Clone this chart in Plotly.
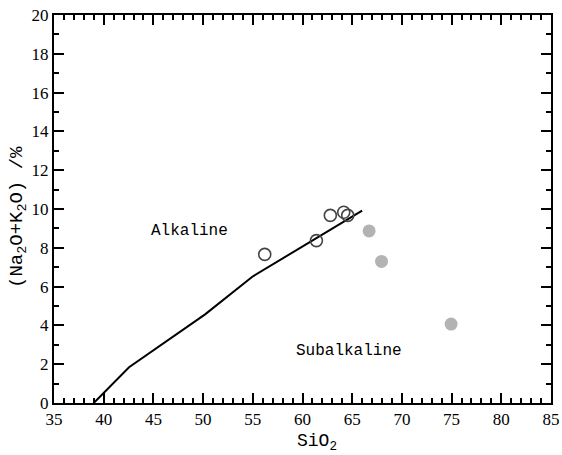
import plotly.graph_objects as go

# Boundary line (Irvine & Baragar style)
line_x = [39.0, 42.55, 50.2, 54.95, 66.0]
line_y = [0.0, 1.84, 4.57, 6.51, 9.92]

# Open circle samples
open_x = [56.2, 61.4, 62.8, 64.15, 64.55]
open_y = [7.66, 8.37, 9.67, 9.83, 9.67]

# Filled grey samples
fill_x = [66.7, 67.95, 74.95]
fill_y = [8.87, 7.30, 4.07]

x_ticks = [35, 40, 45, 50, 55, 60, 65, 70, 75, 80, 85]
y_ticks = [0, 2, 4, 6, 8, 10, 12, 14, 16, 18, 20]

labels = [("Alkaline", 48.6, 8.87), ("Subalkaline", 64.7, 2.68)]
x_title = "SiO<sub>2</sub>"
y_title = "(Na<sub>2</sub>O+K<sub>2</sub>O) /%"

FONT = "Liberation Mono"
TICKFONT = "Liberation Serif"

fig = go.Figure()
fig.add_trace(go.Scatter(x=line_x, y=line_y, mode="lines",
                         line=dict(color="black", width=2), showlegend=False))
fig.add_trace(go.Scatter(x=open_x, y=open_y, mode="markers",
                         marker=dict(symbol="circle-open", size=12,
                                     line=dict(color="#444444", width=1.6),
                                     color="#444444"),
                         showlegend=False))
fig.add_trace(go.Scatter(x=fill_x, y=fill_y, mode="markers",
                         marker=dict(symbol="circle", size=13, color="#b3b3b3"),
                         showlegend=False))

for text, x, y in labels:
    fig.add_annotation(x=x, y=y, text=text, showarrow=False,
                       font=dict(family=FONT, size=16, color="black"))

# axis titles as paper-positioned annotations
fig.add_annotation(xref="paper", yref="paper", x=0.53, y=-0.101,
                   xanchor="center", yanchor="middle", text=x_title,
                   showarrow=False, font=dict(family=FONT, size=18, color="black"))
fig.add_annotation(xref="paper", yref="paper", x=-0.072, y=0.48,
                   xanchor="center", yanchor="middle", text=y_title, textangle=-90,
                   showarrow=False, font=dict(family=FONT, size=19, color="black"))

axis_common = dict(
    showgrid=False, zeroline=False, showline=True, linecolor="black",
    linewidth=2, mirror="ticks", ticks="inside", ticklen=10, tickwidth=2,
    tickcolor="black", automargin=False, ticklabeloverflow="allow",
    tickfont=dict(family=TICKFONT, size=17, color="black"),
)

fig.update_xaxes(range=[35, 85], tickvals=x_ticks,
                 minor=dict(dtick=1, ticks="inside", ticklen=5, tickwidth=2,
                            tickcolor="black", showgrid=False),
                 **axis_common)
fig.update_yaxes(range=[0, 20], tickvals=y_ticks,
                 minor=dict(dtick=1, ticks="inside", ticklen=5, tickwidth=2,
                            tickcolor="black", showgrid=False),
                 **axis_common)

fig.update_layout(width=562, height=455,
                  margin=dict(l=54, r=11, t=15, b=52),
                  plot_bgcolor="white", paper_bgcolor="white")

# remove the default page margin so the figure fills the window exactly
fig.write_html("out.html", config={"displayModeBar": False},
               post_script="document.body.style.margin='0';document.body.style.overflow='hidden';")
